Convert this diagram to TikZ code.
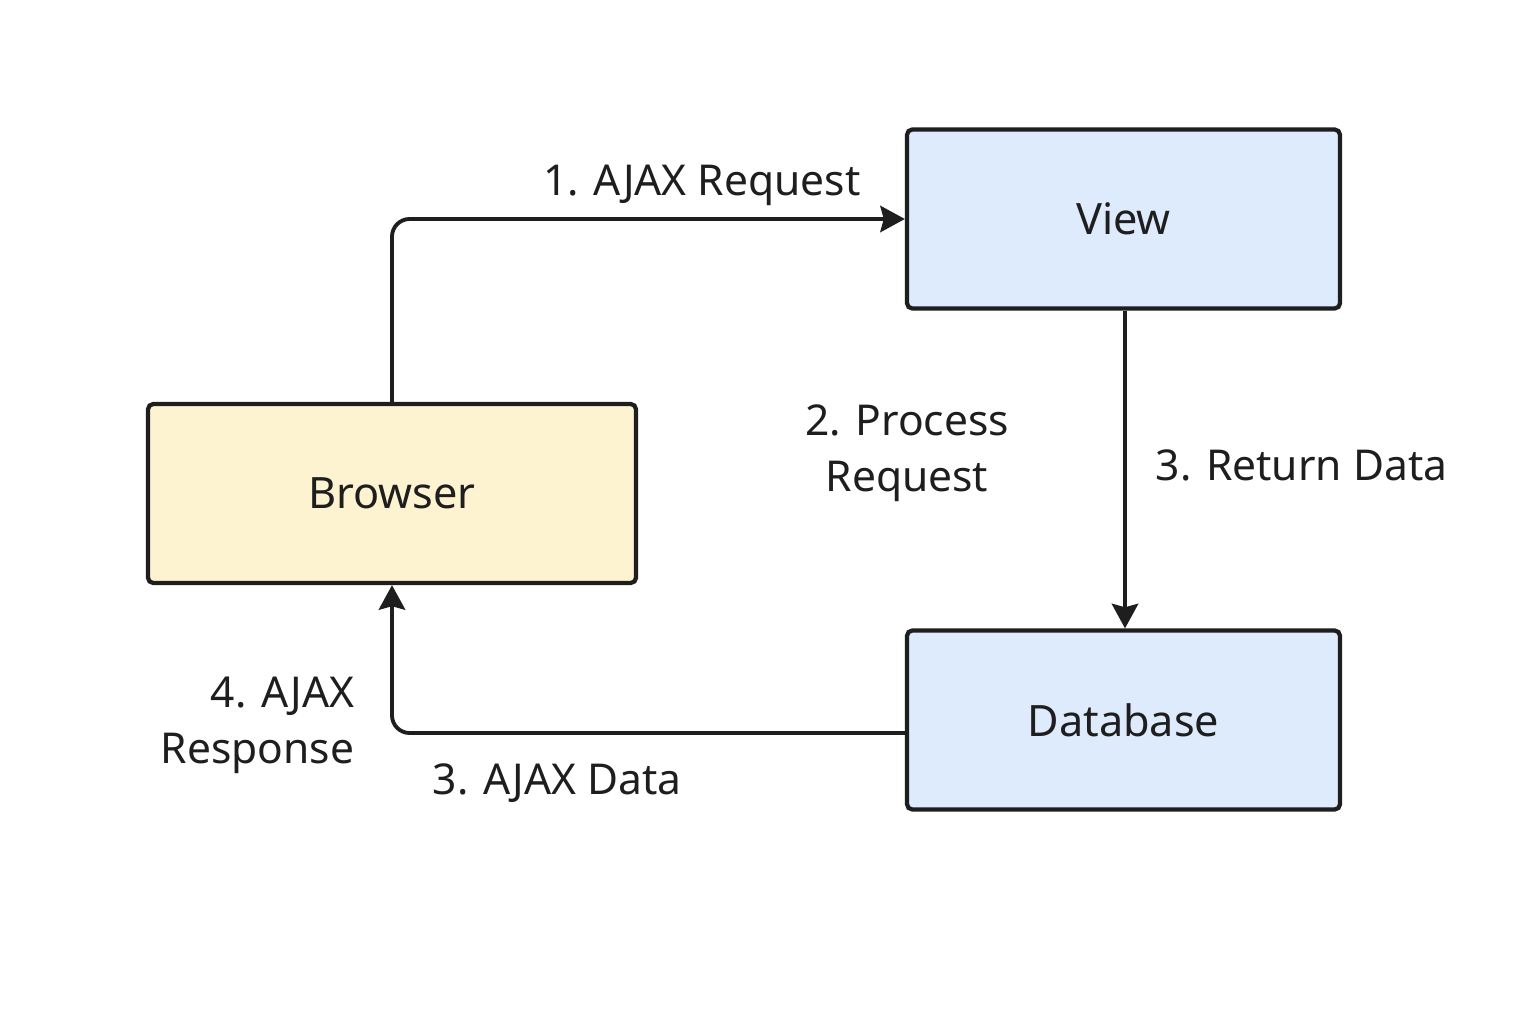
\documentclass[tikz,border=0pt]{standalone}
\usepackage{fontspec}
\setmainfont{Noto Sans}
\usepackage{xcolor}
\usetikzlibrary{arrows.meta}
\definecolor{browserfill}{HTML}{FDF3D0}
\definecolor{serverfill}{HTML}{DEEBFC}
\definecolor{inkline}{HTML}{1E1E1E}
\tikzset{box/.style={draw=inkline,line width=1.2pt,rounded corners=1.5pt,
   font=\fontsize{12.3}{15}\selectfont,text=inkline},
 browserbox/.style={box,fill=browserfill,minimum width=4.88cm,minimum height=1.79cm},
 serverbox/.style={box,fill=serverfill,minimum width=4.33cm,minimum height=1.79cm},
 flow/.style={draw=inkline,line width=1.1pt,rounded corners=5pt,
   -{Stealth[length=7pt,width=7.5pt,inset=1pt]}},
 steplabel/.style={font=\fontsize{12.1}{16}\selectfont,text=inkline,inner sep=0pt},
 }

\begin{document}
\begin{tikzpicture}
    \useasboundingbox (0,0) rectangle (15.36,10.24);
    % boxes
    \node[browserbox] (browser) at (3.92,5.305) {Browser};
    \node[serverbox] (view) at (11.235,8.05) {View};
    \node[serverbox] (database) at (11.235,3.04) {Database};
    \coordinate (dbout) at (9.07,2.91);
    % connectors
    \draw[flow] (browser.north) |- (view.west);
    \draw[flow] (view.south -| 11.25,0) -- (database.north -| 11.25,0);
    \draw[flow] (dbout) -| (browser.south);
    % labels
    \node[steplabel] (reqlabel) at (7.02,8.39) {1. AJAX Request};
    \node[steplabel,align=center] (proclabel) at (9.07,5.71) {2. Process\\Request};
    \node[steplabel,anchor=west] (retlabel) at (11.55,5.59) {3. Return Data};
    \node[steplabel,align=right,anchor=east] (resplabel) at (3.55,2.99) {4. AJAX\\Response};
    \node[steplabel] (datalabel) at (5.57,2.41) {3. AJAX Data};
\end{tikzpicture}
\end{document}
